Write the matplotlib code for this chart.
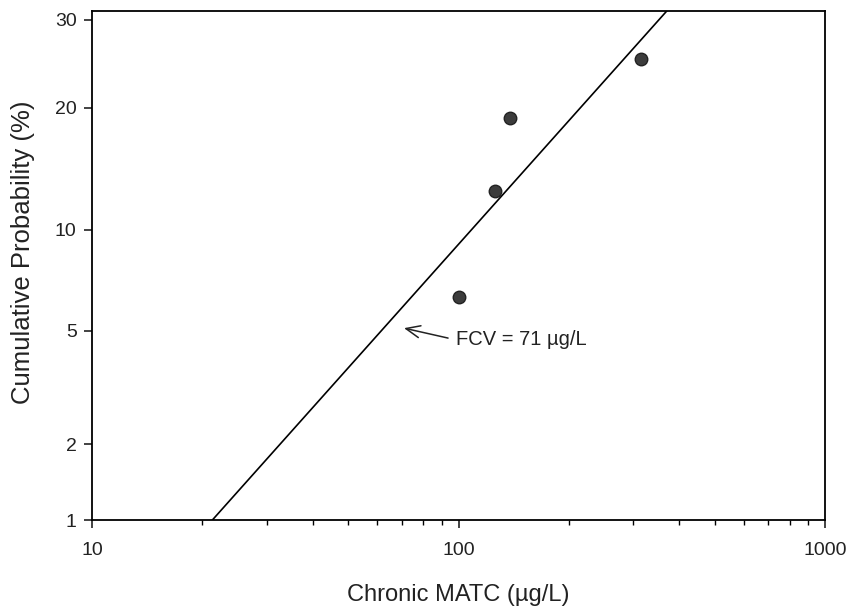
import matplotlib
matplotlib.use('Agg')
import matplotlib.pyplot as plt
from matplotlib.ticker import FixedLocator, NullLocator, LogLocator, NullFormatter
from statistics import NormalDist
import numpy as np

# Chronic MATC values (ug/L) and their cumulative probabilities (%)
matc = [100, 125.4, 137.8, 315.6]
cum_prob = [6.4, 12.7, 19.0, 25.3]

# fitted line, given by its two ends
fit_x = [21.3, 370]
fit_p = [1, 31.1]

# FCV label
fcv_x = 71
fcv_p = 5.1
fcv_text = 'FCV = 71 µg/L'

y_ticks = [1, 2, 5, 10, 20, 30]

nd = NormalDist()
_ppf = np.vectorize(lambda p: nd.inv_cdf(min(max(p / 100.0, 1e-9), 1 - 1e-9)),
                    otypes=[float])
_cdf = np.vectorize(lambda z: nd.cdf(z) * 100.0, otypes=[float])


def forward(p):
    return _ppf(np.asarray(p, dtype=float))


def inverse(z):
    return _cdf(np.asarray(z, dtype=float))


plt.rcParams['font.family'] = ['Liberation Sans', 'DejaVu Sans']

fig = plt.figure(figsize=(8.48, 6.08), dpi=100)
ax = fig.add_axes([0.1085, 0.1447, 0.8644, 0.8372])

ax.set_xscale('log')
ax.set_yscale('function', functions=(forward, inverse))
ax.set_xlim(10, 1000)
ax.set_ylim(1, 31.1)

ax.plot(fit_x, fit_p, color='black', lw=1.2)
ax.plot(matc, cum_prob, 'o', color='#3c3c3c', mec='#222222', ms=9, mew=1)

ax.annotate(fcv_text, xy=(fcv_x, fcv_p), xytext=(98.6, 4.67),
            fontsize=14.5, ha='left', va='center', color='#222222',
            arrowprops=dict(arrowstyle='->,head_length=0.7,head_width=0.3',
                            lw=1.1, color='#222222',
                            relpos=(0, 0.5), shrinkA=4, shrinkB=0))

ax.yaxis.set_major_locator(FixedLocator(y_ticks))
ax.yaxis.set_minor_locator(NullLocator())
ax.set_yticklabels([str(t) for t in y_ticks])
ax.set_xticks([10, 100, 1000])
ax.set_xticklabels(['10', '100', '1000'])
ax.xaxis.set_minor_locator(LogLocator(base=10, subs=np.arange(2, 10)))
ax.xaxis.set_minor_formatter(NullFormatter())

ax.tick_params(which='major', direction='out', length=6, width=1.2,
               labelsize=14, colors='#222222', pad=5)
ax.tick_params(axis='x', which='major', pad=10)
ax.tick_params(which='minor', direction='out', length=3.5, width=1)
for s in ax.spines.values():
    s.set_linewidth(1.3)

ax.set_xlabel('Chronic MATC (µg/L)', fontsize=17, color='#222222', labelpad=17.5)
ax.set_ylabel('Cumulative Probability (%)', fontsize=18.5, color='#222222',
              va='center')
ax.yaxis.set_label_coords(-0.094, 0.526)

fig.savefig('out.png', dpi=100, facecolor='white')
